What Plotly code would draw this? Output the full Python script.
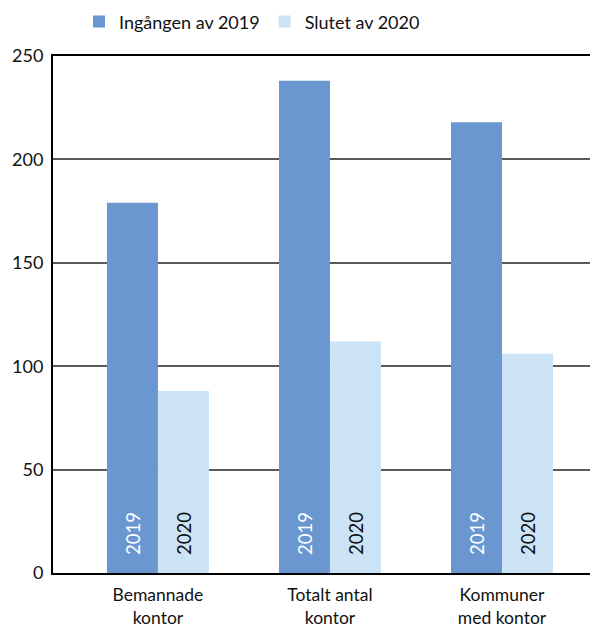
import plotly.graph_objects as go

categories = ["Bemannade<br>kontor", "Totalt antal<br>kontor", "Kommuner<br>med kontor"]
series_names = ["Ingången av 2019", "Slutet av 2020"]
values_2019 = [179, 238, 218]
values_2020 = [88, 112, 106]
bar_labels = ["2019", "2020"]
y_ticks = [0, 50, 100, 150, 200, 250]

c2019 = "#6A97D0"
c2020 = "#CCE3F6"
font_family = "Lato, 'Open Sans', sans-serif"

fig = go.Figure()
fig.add_trace(go.Bar(x=categories, y=values_2019, name=series_names[0],
                     marker=dict(color=c2019, line=dict(width=0))))
fig.add_trace(go.Bar(x=categories, y=values_2020, name=series_names[1],
                     marker=dict(color=c2020, line=dict(width=0))))

for cat in categories:
    for i, lab in enumerate(bar_labels):
        fig.add_annotation(x=cat, y=0, xref="x", yref="y", text=lab,
                           textangle=-90, showarrow=False,
                           xshift=-25.5 if i == 0 else 25.5,
                           yanchor="bottom", yshift=16,
                           font=dict(size=18.5, family=font_family,
                                     color="white" if i == 0 else "#111111"))

fig.update_layout(
    width=598, height=628,
    margin=dict(l=45, r=8, t=48, b=63, autoexpand=False),
    paper_bgcolor="white", plot_bgcolor="white",
    barmode="group", bargap=0.407, bargroupgap=0,
    font=dict(family=font_family, size=18, color="#111111"),
    legend=dict(orientation="h", xref="container", yref="container",
                x=0.408, xanchor="center", y=0.978, yanchor="middle",
                font=dict(size=18), itemwidth=30, traceorder="normal"),
    xaxis=dict(range=[-0.61, 2.558], showline=True, linecolor="black",
               linewidth=2, mirror=True, ticks="", showgrid=False,
               automargin=False, tickfont=dict(size=17.5),
               ticklabelstandoff=5),
    yaxis=dict(range=[0, 250], tickvals=y_ticks, showline=True,
               linecolor="black", linewidth=2, showgrid=True,
               gridcolor="#5a5a5a", gridwidth=1.5, ticks="",
               zeroline=False, automargin=False, tickfont=dict(size=18),
               ticklabelstandoff=4),
)

fig.write_html("out.html")
